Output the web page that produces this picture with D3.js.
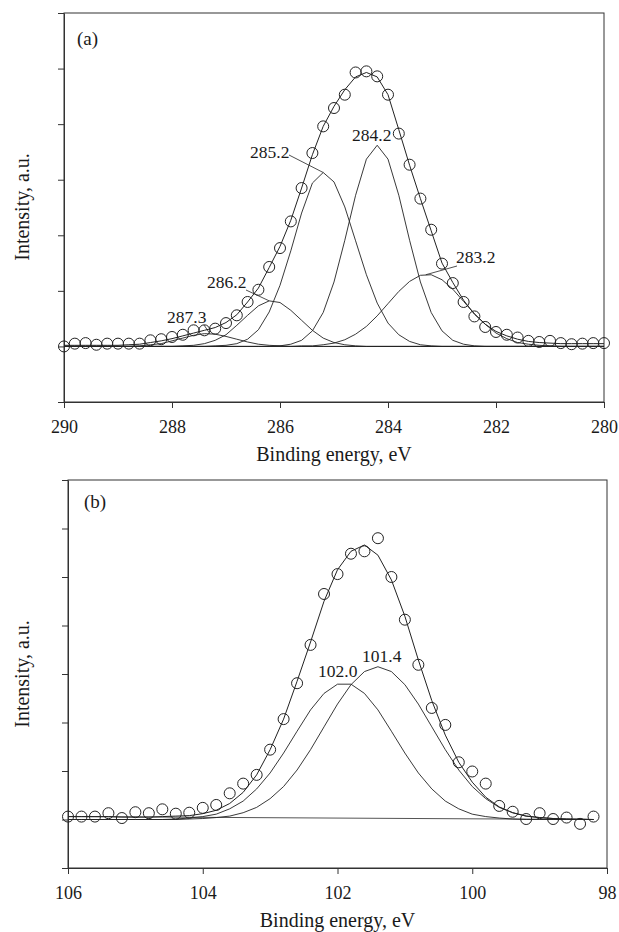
<!DOCTYPE html>
<html><head><meta charset="utf-8">
<script src="https://cdn.jsdelivr.net/npm/d3@7"></script>
<style>
body{margin:0;background:#fff}
svg text{font-family:"Liberation Serif","Times New Roman",serif;fill:#1a1a1a}
</style>
</head><body>
<svg id="chart" width="619" height="932"></svg>
<script>
// ---------- Panel (a): C 1s ----------
const energyA = [290.0,289.8,289.6,289.4,289.2,289.0,288.8,288.6,288.4,288.2,288.0,287.8,287.6,287.4,287.2,287.0,286.8,286.6,286.4,286.2,286.0,285.8,285.6,285.4,285.2,285.0,284.8,284.6,284.4,284.2,284.0,283.8,283.6,283.4,283.2,283.0,282.8,282.6,282.4,282.2,282.0,281.8,281.6,281.4,281.2,281.0,280.8,280.6,280.4,280.2,280.0];
const measuredA = [0.00,0.05,0.06,0.03,0.05,0.05,0.05,0.05,0.11,0.13,0.17,0.21,0.29,0.29,0.32,0.42,0.56,0.80,1.02,1.43,1.77,2.25,2.85,3.48,3.96,4.29,4.53,4.93,4.95,4.86,4.53,3.83,3.27,2.66,2.10,1.49,1.14,0.80,0.54,0.35,0.26,0.21,0.16,0.10,0.08,0.10,0.06,0.04,0.05,0.06,0.06];
const envelopeA = [0.02,0.02,0.02,0.02,0.02,0.02,0.03,0.04,0.07,0.10,0.14,0.19,0.24,0.29,0.34,0.43,0.57,0.80,1.05,1.42,1.80,2.27,2.85,3.45,3.96,4.32,4.62,4.85,4.93,4.85,4.53,3.90,3.26,2.66,2.08,1.50,1.15,0.83,0.58,0.40,0.27,0.19,0.13,0.09,0.07,0.06,0.05,0.05,0.05,0.05,0.05];
const peak2873 = [0,0,0,0,0,0,0,0.01,0.03,0.05,0.10,0.15,0.20,0.23,0.22,0.18,0.13,0.08,0.04,0.02,0.01,0,0,0,0,0,0,0,0,0,0,0,0,0,0,0,0,0,0,0,0,0,0,0,0,0,0,0,0,0,0];
const peak2862 = [0,0,0,0,0,0,0,0,0,0,0,0.01,0.02,0.05,0.11,0.21,0.38,0.56,0.73,0.82,0.79,0.65,0.47,0.29,0.15,0.07,0.03,0.01,0,0,0,0,0,0,0,0,0,0,0,0,0,0,0,0,0,0,0,0,0,0,0];
const peak2852 = [0,0,0,0,0,0,0,0,0,0,0,0,0,0,0.01,0.02,0.05,0.13,0.30,0.62,1.10,1.72,2.40,2.94,3.13,2.96,2.51,1.90,1.29,0.78,0.42,0.21,0.09,0.03,0.01,0,0,0,0,0,0,0,0,0,0,0,0,0,0,0,0];
const peak2842 = [0,0,0,0,0,0,0,0,0,0,0,0,0,0,0,0,0,0,0,0,0.01,0.04,0.11,0.28,0.61,1.16,1.91,2.72,3.37,3.62,3.37,2.72,1.91,1.16,0.61,0.28,0.11,0.04,0.01,0,0,0,0,0,0,0,0,0,0,0,0];
const peak2832 = [0,0,0,0,0,0,0,0,0,0,0,0,0,0,0,0,0,0,0,0,0,0,0.01,0.01,0.03,0.06,0.12,0.22,0.36,0.55,0.77,0.99,1.17,1.28,1.29,1.20,1.03,0.81,0.59,0.40,0.24,0.14,0.07,0.04,0.02,0.01,0,0,0,0,0];
const baselineEnergyA = [290, 280];
const baselineA = [0, 0];
const xTicksA = [290, 288, 286, 284, 282, 280];
const yTicksA = [-1, 0, 1, 2, 3, 4, 5, 6];

// ---------- Panel (b): Si 2p ----------
const energyB = [106.0,105.8,105.6,105.4,105.2,105.0,104.8,104.6,104.4,104.2,104.0,103.8,103.6,103.4,103.2,103.0,102.8,102.6,102.4,102.2,102.0,101.8,101.6,101.4,101.2,101.0,100.8,100.6,100.4,100.2,100.0,99.8,99.6,99.4,99.2,99.0,98.8,98.6,98.4,98.2];
const measuredB = [0.06,0.06,0.06,0.13,0.03,0.15,0.13,0.21,0.12,0.14,0.24,0.30,0.54,0.74,0.92,1.44,2.07,2.81,3.60,4.65,5.06,5.48,5.53,5.80,5.00,4.12,3.19,2.30,1.95,1.18,0.99,0.74,0.28,0.16,0.01,0.13,0.01,0.04,-0.09,0.06];
const envelopeB = [0.06,0.06,0.06,0.06,0.05,0.05,0.05,0.06,0.07,0.08,0.12,0.19,0.33,0.56,0.92,1.44,2.07,2.85,3.66,4.50,5.15,5.53,5.66,5.45,4.94,4.19,3.29,2.45,1.74,1.18,0.77,0.46,0.26,0.14,0.07,0.04,0.02,0.01,0.01,0.00];
const peak1020 = [0,0,0,0,0,0,0,0,0.01,0.03,0.06,0.11,0.22,0.38,0.63,0.96,1.37,1.82,2.26,2.60,2.79,2.79,2.60,2.26,1.82,1.37,0.96,0.63,0.38,0.22,0.11,0.06,0.03,0.01,0,0,0,0,0,0];
const peak1014 = [0,0,0,0,0,0,0,0,0,0.01,0.02,0.04,0.07,0.14,0.25,0.43,0.68,1.02,1.44,1.91,2.38,2.78,3.05,3.15,3.05,2.78,2.38,1.91,1.44,1.02,0.68,0.43,0.25,0.14,0.07,0.04,0.02,0.01,0,0];
const baselineEnergyB = [106, 98.2];
const baselineB = [0.06, 0.00];
const xTicksB = [106, 104, 102, 100, 98];
const yTicksB = [-1, 0, 1, 2, 3, 4, 5, 6, 7];

const svg = d3.select("#chart");
const INK = "#222";

function drawPanel(o) {
  const x = d3.scaleLinear().domain(o.xDomain).range([o.left, o.right]);
  const y = d3.scaleLinear().domain(o.yDomain).range([o.bottom, o.top]);
  const g = svg.append("g");

  // axes
  const xa = g.append("g").attr("transform", `translate(0,${o.bottom})`)
    .call(d3.axisBottom(x).tickValues(o.xTicks).tickSize(6).tickSizeOuter(0).tickPadding(12.5).tickFormat(d3.format("d")));
  xa.selectAll("text").attr("font-size", 18).attr("font-family", "Liberation Serif");
  const ya = g.append("g").attr("transform", `translate(${o.left},0)`)
    .call(d3.axisLeft(y).tickValues(o.yTicks).tickSize(6).tickSizeOuter(0).tickFormat(""));
  g.selectAll(".domain, .tick line").attr("stroke", "#333").attr("stroke-width", 1);
  g.append("rect").attr("x", o.left).attr("y", o.top)
    .attr("width", o.right - o.left).attr("height", o.bottom - o.top)
    .attr("fill", "none").attr("stroke", "#333").attr("stroke-width", 1);

  const line = (xs) => d3.line().x((d, i) => x(xs[i])).y(d => y(d));

  // baseline
  g.append("path").datum(o.baseline).attr("d", line(o.baselineX))
    .attr("fill", "none").attr("stroke", "#555").attr("stroke-width", 1);
  // components
  o.components.forEach(c => {
    g.append("path").datum(c).attr("d", line(o.energy))
      .attr("fill", "none").attr("stroke", INK).attr("stroke-width", 0.9);
  });
  // envelope
  g.append("path").datum(o.envelope).attr("d", line(o.energy))
    .attr("fill", "none").attr("stroke", INK).attr("stroke-width", 1);
  // measured points
  g.selectAll("circle.pt").data(o.measured).join("circle").attr("class", "pt")
    .attr("cx", (d, i) => x(o.energy[i])).attr("cy", d => y(d)).attr("r", 5.5)
    .attr("fill", "none").attr("stroke", INK).attr("stroke-width", 1);

  // peak labels with leaders
  o.labels.forEach(l => {
    g.append("text").attr("x", l.tx).attr("y", l.ty).attr("font-size", 17.5).text(l.text);
    if (l.lead) {
      g.append("line").attr("x1", l.lead[0]).attr("y1", l.lead[1])
        .attr("x2", x(l.px)).attr("y2", y(l.pv))
        .attr("stroke", INK).attr("stroke-width", 0.8);
    }
  });

  // titles
  g.append("text").attr("x", (o.left + o.right) / 2).attr("y", o.xTitleY)
    .attr("text-anchor", "middle").attr("font-size", 20).text("Binding energy, eV");
  g.append("text").attr("transform", `translate(29,${o.yTitleY}) rotate(-90)`)
    .attr("text-anchor", "middle").attr("font-size", 20).text("Intensity, a.u.");
  g.append("text").attr("x", o.tagX).attr("y", o.tagY).attr("font-size", 19).text(o.tag);
}

drawPanel({
  left: 64, right: 604, top: 13, bottom: 402,
  xDomain: [290, 280], yDomain: [-1, 6], xTicks: xTicksA, yTicks: yTicksA,
  energy: energyA, measured: measuredA, envelope: envelopeA,
  components: [peak2873, peak2862, peak2852, peak2842, peak2832],
  baselineX: baselineEnergyA, baseline: baselineA,
  labels: [
    {text: "287.3", tx: 167, ty: 323, lead: [204, 325], px: 287.3, pv: 0.23},
    {text: "286.2", tx: 207, ty: 288, lead: [246, 290], px: 286.2, pv: 0.82},
    {text: "285.2", tx: 250, ty: 158, lead: [289, 155], px: 285.2, pv: 3.13},
    {text: "284.2", tx: 352, ty: 141},
    {text: "283.2", tx: 456, ty: 263, lead: [457, 266], px: 283.3, pv: 1.29}
  ],
  xTitleY: 461, yTitleY: 207, tag: "(a)", tagX: 77, tagY: 45
});

drawPanel({
  left: 68, right: 607, top: 480, bottom: 868,
  xDomain: [106, 98], yDomain: [-1, 7], xTicks: xTicksB, yTicks: yTicksB,
  energy: energyB, measured: measuredB, envelope: envelopeB,
  components: [peak1020, peak1014],
  baselineX: baselineEnergyB, baseline: baselineB,
  labels: [
    {text: "102.0", tx: 318, ty: 677},
    {text: "101.4", tx: 362, ty: 662}
  ],
  xTitleY: 927, yTitleY: 674, tag: "(b)", tagX: 84, tagY: 508
});
</script>
</body></html>
